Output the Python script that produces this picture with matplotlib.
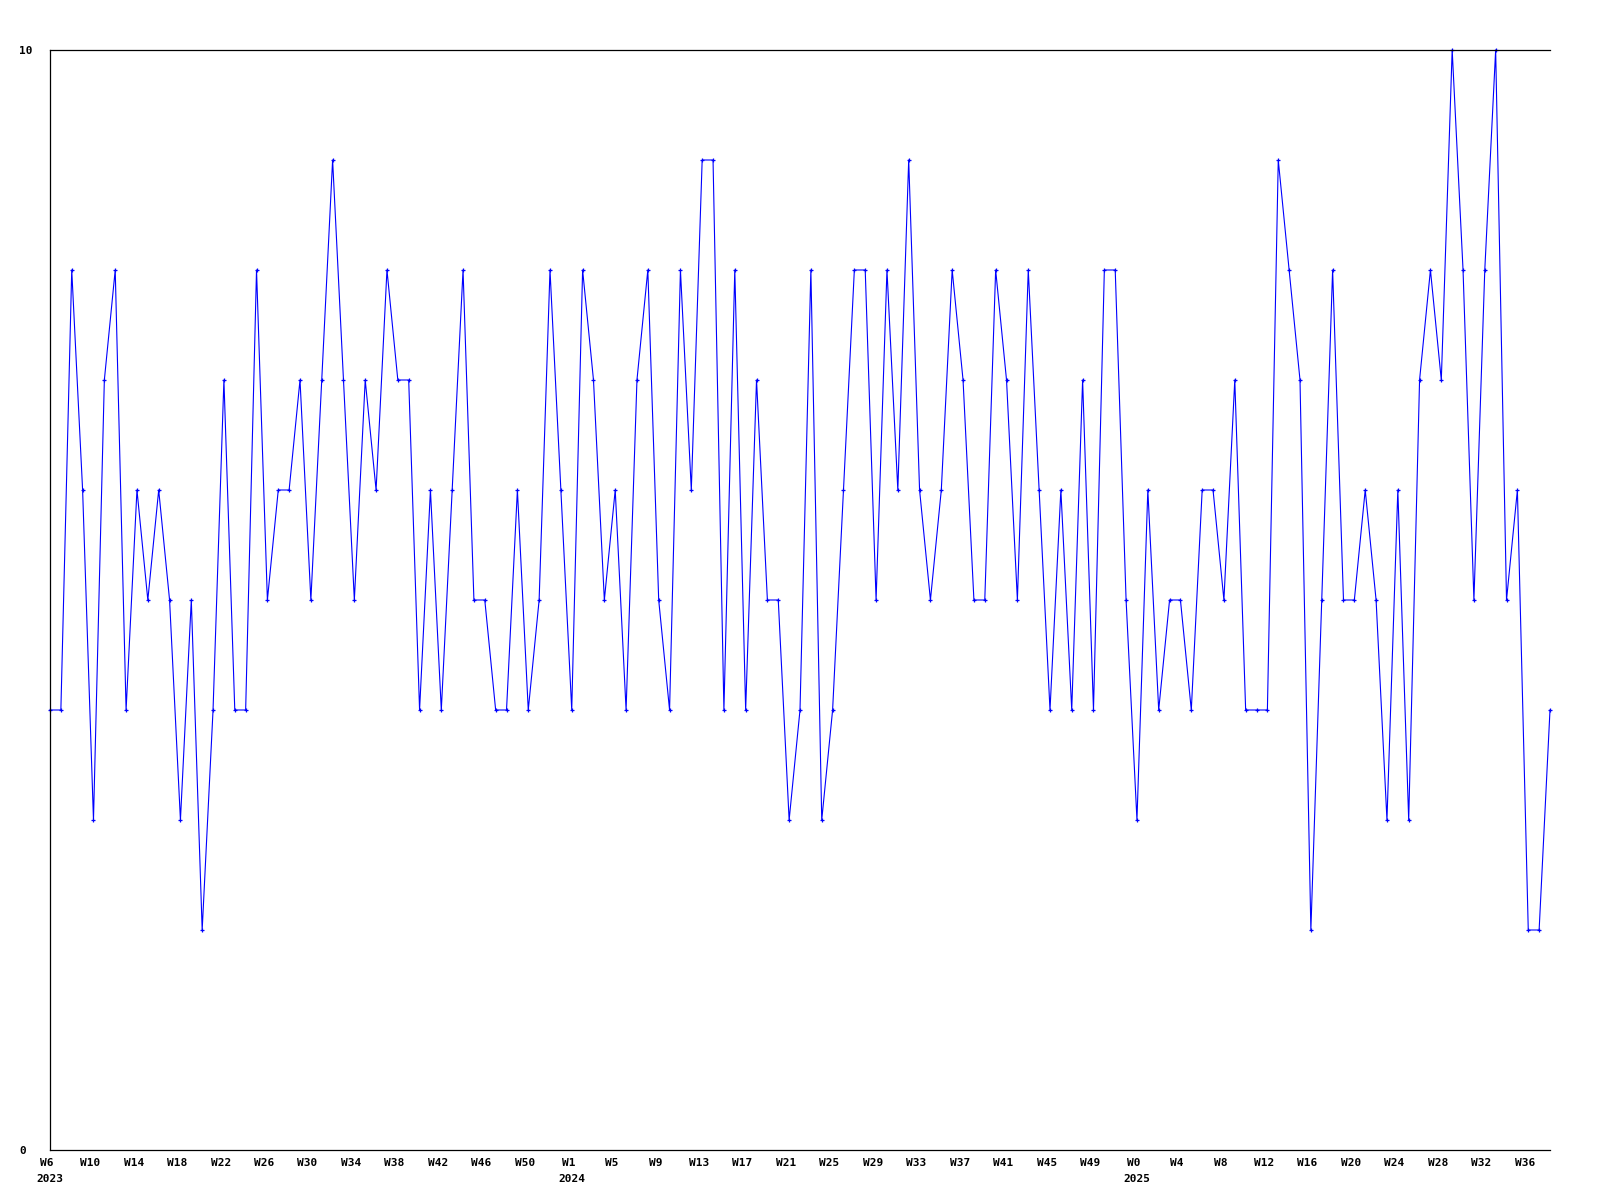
#weekly counts chart, W6 2023 to W38 2025

#IMPORT STATEMENTS
import numpy as np
import matplotlib
matplotlib.use('Agg')
import matplotlib.pyplot as plt

#DATA
values = [4, 4, 8, 6, 3, 7, 8, 4, 6, 5, 6, 5, 3, 5, 2, 4, 7, 4, 4, 8,
          5, 6, 6, 7, 5, 7, 9, 7, 5, 7, 6, 8, 7, 7, 4, 6, 4, 6, 8, 5,
          5, 4, 4, 6, 4, 5, 8, 6, 4, 8, 7, 5, 6, 4, 7, 8, 5, 4, 8, 6,
          9, 9, 4, 8, 4, 7, 5, 5, 3, 4, 8, 3, 4, 6, 8, 8, 5, 8, 6, 9,
          6, 5, 6, 8, 7, 5, 5, 8, 7, 5, 8, 6, 4, 6, 4, 7, 4, 8, 8, 5,
          3, 6, 4, 5, 5, 4, 6, 6, 5, 7, 4, 4, 4, 9, 8, 7, 2, 5, 8, 5,
          5, 6, 5, 3, 6, 3, 7, 8, 7, 10, 8, 5, 8, 10, 5, 6, 2, 2, 4]

week_labels = ['W6', 'W10', 'W14', 'W18', 'W22', 'W26', 'W30', 'W34', 'W38',
               'W42', 'W46', 'W50', 'W1', 'W5', 'W9', 'W13', 'W17', 'W21',
               'W25', 'W29', 'W33', 'W37', 'W41', 'W45', 'W49', 'W0', 'W4',
               'W8', 'W12', 'W16', 'W20', 'W24', 'W28', 'W32', 'W36']
label_step = 4  #one week label every 4 points

years = ['2023', '2024', '2025']
year_label_idx = [0, 12, 25]  #which week label each year sits under

y_ticks = [0, 10]

#MAIN SCRIPT
x = np.arange(len(values))

fig = plt.figure(figsize=(16, 12), dpi=100)
ax = fig.add_axes([50/1600, 50/1200, 1500/1600, 1100/1200])

ax.plot(x, values, color='#0000ff', linewidth=0.8, marker='+',
        markersize=3.5, markeredgewidth=0.9, clip_on=False)

ax.set_xlim(0, len(values) - 1)
ax.set_ylim(0, 10)

for side in ['left', 'top', 'bottom']:
    ax.spines[side].set_linewidth(0.9)
    ax.spines[side].set_color('black')
ax.spines['right'].set_visible(False)

#y labels sit left-aligned near the figure edge
ax.set_yticks(y_ticks)
ax.set_yticklabels([str(t) for t in y_ticks], fontsize=8,
                   fontfamily='DejaVu Sans Mono', fontweight='bold', ha='left')
ax.tick_params(axis='y', length=0, pad=22)

#x labels drawn as text so the year can go on a second row
ax.set_xticks([])
trans = ax.get_xaxis_transform()
for i, lab in enumerate(week_labels):
    ax.text(i*label_step - 0.3, -0.0115, lab, transform=trans, ha='center', va='center',
            fontsize=8, fontfamily='DejaVu Sans Mono', fontweight='bold')
for yr, k in zip(years, year_label_idx):
    ax.text(k*label_step, -0.026, yr, transform=trans, ha='center', va='center',
            fontsize=8, fontfamily='DejaVu Sans Mono', fontweight='bold')

fig.savefig('out.png', dpi=100, facecolor='white')
